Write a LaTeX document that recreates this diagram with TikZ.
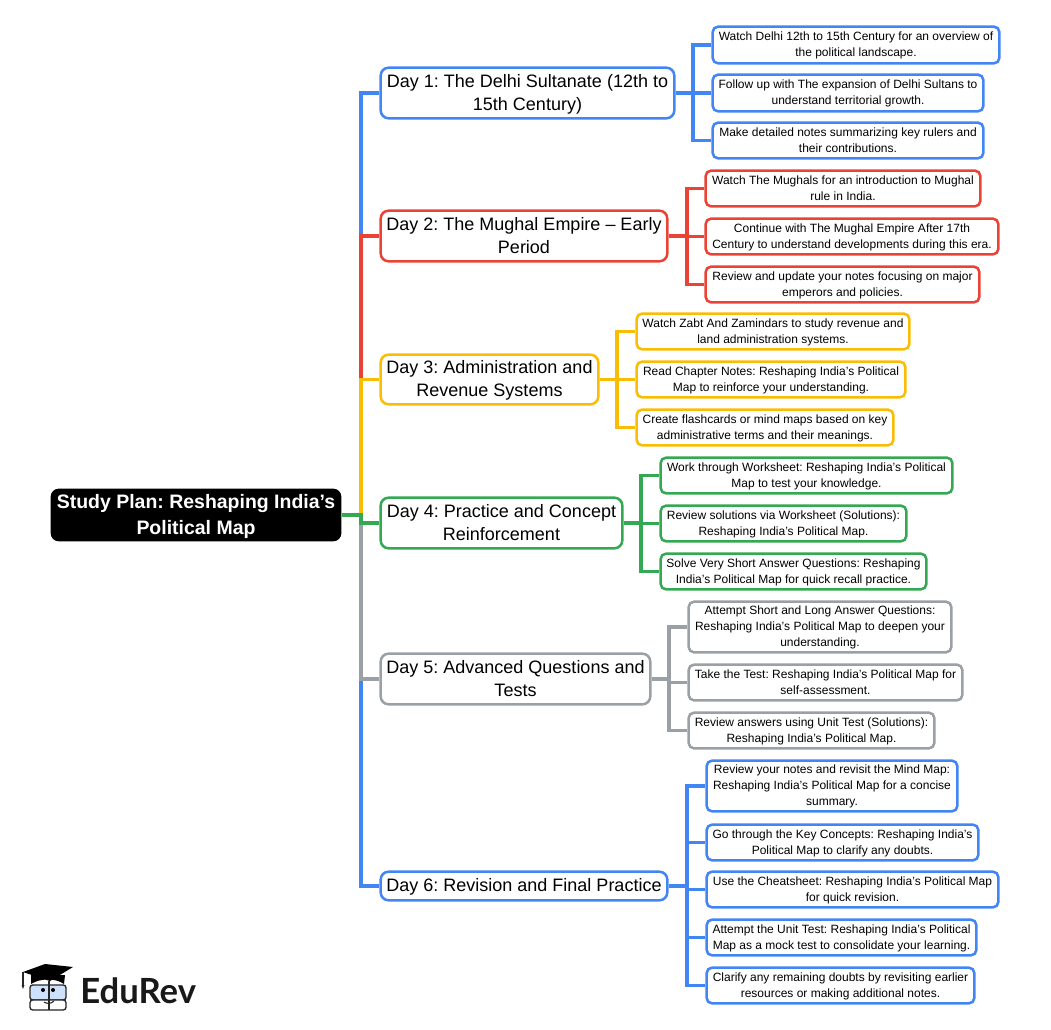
\documentclass[tikz,border=0pt]{standalone}
\usepackage{xcolor}
\usepackage{fontspec}
\setmainfont{Liberation Sans}
\newfontfamily\logofont{Lato}
\definecolor{dayblue}{RGB}{66,133,244}
\definecolor{dayred}{RGB}{234,67,53}
\definecolor{dayyellow}{RGB}{251,188,4}
\definecolor{daygreen}{RGB}{52,168,83}
\definecolor{daygray}{RGB}{154,160,166}
\definecolor{logoblue}{RGB}{205,225,250}
\definecolor{logoink}{RGB}{38,38,38}
\newcommand{\lift}{\frenchspacing\rule{0pt}{0.85em}}
\newcommand{\drop}{\rule[-0.21em]{0pt}{0.21em}}
\tikzset{
  sized/.style 2 args={minimum width=#1*0.75pt-1pt,minimum height=#2*0.75pt-1pt},
  rootbox/.style={fill=black,text=white,rounded corners=6pt,inner sep=0pt,align=center,
    font=\fontsize{14.6}{19.5}\selectfont\bfseries},
  daybox/.style={draw=#1,line width=1.9pt,fill=white,text=black,rounded corners=6pt,inner sep=0pt,align=center,
    font=\fontsize{13.5}{17.6}\selectfont},
  leafbox/.style={draw=#1,line width=1.9pt,fill=white,text=black,rounded corners=4pt,inner sep=0pt,align=center,
    font=\fontsize{9}{12}\selectfont},
  link/.style={draw=#1,line width=2.3pt},
}
\begin{document}
\begin{tikzpicture}[x=0.75pt,y=0.75pt,yscale=-1,xscale=1]
\useasboundingbox (0,0) rectangle (1051,1030);

% Junctions
\coordinate (trunk) at (361,515);
\coordinate (busa) at (693,93);
\coordinate (busb) at (687,236);
\coordinate (busc) at (617,379.5);
\coordinate (busd) at (641,523);
\coordinate (buse) at (669,679);
\coordinate (busf) at (687,886);

% Root
\node (root) at (196,515) [rootbox,sized={292}{54}] {\lift Study Plan: Reshaping India’s\\Political Map\drop};

% Days
\node (daya) at (527.5,93) [daybox=dayblue,sized={295}{52}] {\lift Day 1: The Delhi Sultanate (12th to\\15th Century)\drop};
\node (dayb) at (524,236) [daybox=dayred,sized={288}{52}] {\lift Day 2: The Mughal Empire – Early\\Period\drop};
\node (dayc) at (489.5,379.5) [daybox=dayyellow,sized={219}{51}] {\lift Day 3: Administration and\\Revenue Systems\drop};
\node (dayd) at (501.5,523) [daybox=daygreen,sized={243}{52}] {\lift Day 4: Practice and Concept\\Reinforcement\drop};
\node (daye) at (515.5,679) [daybox=daygray,sized={271}{52}] {\lift Day 5: Advanced Questions and\\Tests\drop};
\node (dayf) at (524,886) [daybox=dayblue,sized={288}{30}] {\lift Day 6: Revision and Final Practice\drop};

% Day 1 tasks
\node (aone) at (856,45) [leafbox=dayblue,sized={288}{38}] {\lift Watch Delhi 12th to 15th Century for an overview of\\the political landscape.\drop};
\node (atwo) at (848,93) [leafbox=dayblue,sized={272}{38}] {\lift Follow up with The expansion of Delhi Sultans to\\understand territorial growth.\drop};
\node (athree) at (848,140.5) [leafbox=dayblue,sized={272}{37}] {\lift Make detailed notes summarizing key rulers and\\their contributions.\drop};

% Day 2 tasks
\node (bone) at (843,188.5) [leafbox=dayred,sized={276}{37}] {\lift Watch The Mughals for an introduction to Mughal\\rule in India.\drop};
\node (btwo) at (852,236.5) [leafbox=dayred,sized={294}{37}] {\lift Continue with The Mughal Empire After 17th\\Century to understand developments during this era.\drop};
\node (bthree) at (842.5,284.5) [leafbox=dayred,sized={275}{37}] {\lift Review and update your notes focusing on major\\emperors and policies.\drop};

% Day 3 tasks
\node (cone) at (773,331.5) [leafbox=dayyellow,sized={274}{37}] {\lift Watch Zabt And Zamindars to study revenue and\\land administration systems.\drop};
\node (ctwo) at (771,379.5) [leafbox=dayyellow,sized={270}{37}] {\lift Read Chapter Notes: Reshaping India’s Political\\Map to reinforce your understanding.\drop};
\node (cthree) at (765,427.5) [leafbox=dayyellow,sized={258}{37}] {\lift Create flashcards or mind maps based on key\\administrative terms and their meanings.\drop};

% Day 4 tasks
\node (done) at (806.5,475.5) [leafbox=daygreen,sized={293}{37}] {\lift Work through Worksheet: Reshaping India’s Political\\Map to test your knowledge.\drop};
\node (dtwo) at (783.5,523.5) [leafbox=daygreen,sized={247}{37}] {\lift Review solutions via Worksheet (Solutions):\\Reshaping India’s Political Map.\drop};
\node (dthree) at (793.5,571.5) [leafbox=daygreen,sized={267}{37}] {\lift Solve Very Short Answer Questions: Reshaping\\India’s Political Map for quick recall practice.\drop};

% Day 5 tasks
\node (eone) at (820,627) [leafbox=daygray,sized={264}{52}] {\lift Attempt Short and Long Answer Questions:\\Reshaping India’s Political Map to deepen your\\understanding.\drop};
\node (etwo) at (825.5,682.5) [leafbox=daygray,sized={275}{37}] {\lift Take the Test: Reshaping India’s Political Map for\\self-assessment.\drop};
\node (ethree) at (811.5,730.5) [leafbox=daygray,sized={247}{37}] {\lift Review answers using Unit Test (Solutions):\\Reshaping India’s Political Map.\drop};

% Day 6 tasks
\node (fone) at (832,786) [leafbox=dayblue,sized={252}{52}] {\lift Review your notes and revisit the Mind Map:\\Reshaping India’s Political Map for a concise\\summary.\drop};
\node (ftwo) at (842.5,842.5) [leafbox=dayblue,sized={273}{37}] {\lift Go through the Key Concepts: Reshaping India’s\\Political Map to clarify any doubts.\drop};
\node (fthree) at (852.5,889.5) [leafbox=dayblue,sized={293}{37}] {\lift Use the Cheatsheet: Reshaping India’s Political Map\\for quick revision.\drop};
\node (ffour) at (841.5,937.5) [leafbox=dayblue,sized={271}{37}] {\lift Attempt the Unit Test: Reshaping India’s Political\\Map as a mock test to consolidate your learning.\drop};
\node (ffive) at (840.5,985.5) [leafbox=dayblue,sized={269}{37}] {\lift Clarify any remaining doubts by revisiting earlier\\resources or making additional notes.\drop};

% Trunk links, later ones lie over earlier ones
\draw [link=dayblue] (root.east) -- (trunk) |- (daya.west);
\draw [link=dayblue] (root.east) -- (trunk) |- (dayf.west);
\draw [link=dayred] (root.east) -- (trunk) |- (dayb.west);
\draw [link=daygray] (root.east) -- (trunk) |- (daye.west);
\draw [link=dayyellow] (root.east) -- (trunk) |- (dayc.west);
\draw [link=daygreen] (root.east) -- (trunk) |- (dayd.west);

% Task links
\draw [link=dayblue] (daya.east) -- (busa) |- (aone.west);
\draw [link=dayblue] (busa) -- (atwo.west);
\draw [link=dayblue] (busa) |- (athree.west);
\draw [link=dayred] (dayb.east) -- (busb) |- (bone.west);
\draw [link=dayred] (busb) |- (btwo.west);
\draw [link=dayred] (busb) |- (bthree.west);
\draw [link=dayyellow] (dayc.east) -- (busc) |- (cone.west);
\draw [link=dayyellow] (busc) -- (ctwo.west);
\draw [link=dayyellow] (busc) |- (cthree.west);
\draw [link=daygreen] (dayd.east) -- (busd) |- (done.west);
\draw [link=daygreen] (busd) |- (dtwo.west);
\draw [link=daygreen] (busd) |- (dthree.west);
\draw [link=daygray] (daye.east) -- (buse) |- (eone.west);
\draw [link=daygray] (buse) |- (etwo.west);
\draw [link=daygray] (buse) |- (ethree.west);
\draw [link=dayblue] (dayf.east) -- (busf) |- (fone.west);
\draw [link=dayblue] (busf) |- (ftwo.west);
\draw [link=dayblue] (busf) |- (fthree.west);
\draw [link=dayblue] (busf) |- (ffour.west);
\draw [link=dayblue] (busf) |- (ffive.west);

% Logo
\draw [logoink,line width=1pt,fill=logoblue,rounded corners=2pt] (30,985) rectangle (66,1000);
\draw [logoink,line width=1pt,fill=white,rounded corners=2pt] (30,1000) rectangle (66,1010);
\fill [black] (31,975) -- (31,984) .. controls (40,978) and (56,978) .. (64,984) -- (65,975) -- cycle;
\fill [black] (23,972) -- (45,964) -- (73,967) -- (50,981) -- cycle;
\draw [logoink,line width=0.8pt] (23,972) -- (23,985);
\fill [logoink] (21.5,985) -- (24.5,985) -- (23,989) -- cycle;
\draw [logoink,line width=1pt] (49,981) -- (49,1010);
\fill [black] (43,990) circle [radius=2] (53,990) circle [radius=2];
\draw [logoink,line width=0.8pt] (44,1002) .. controls (47,1004) and (51,1004) .. (54,1001);
\node (logotext) at (80,991) [anchor=west,inner sep=0pt,font=\fontsize{26}{30}\selectfont\logofont\bfseries,text=black!90] {EduRev};

\end{tikzpicture}
\end{document}
